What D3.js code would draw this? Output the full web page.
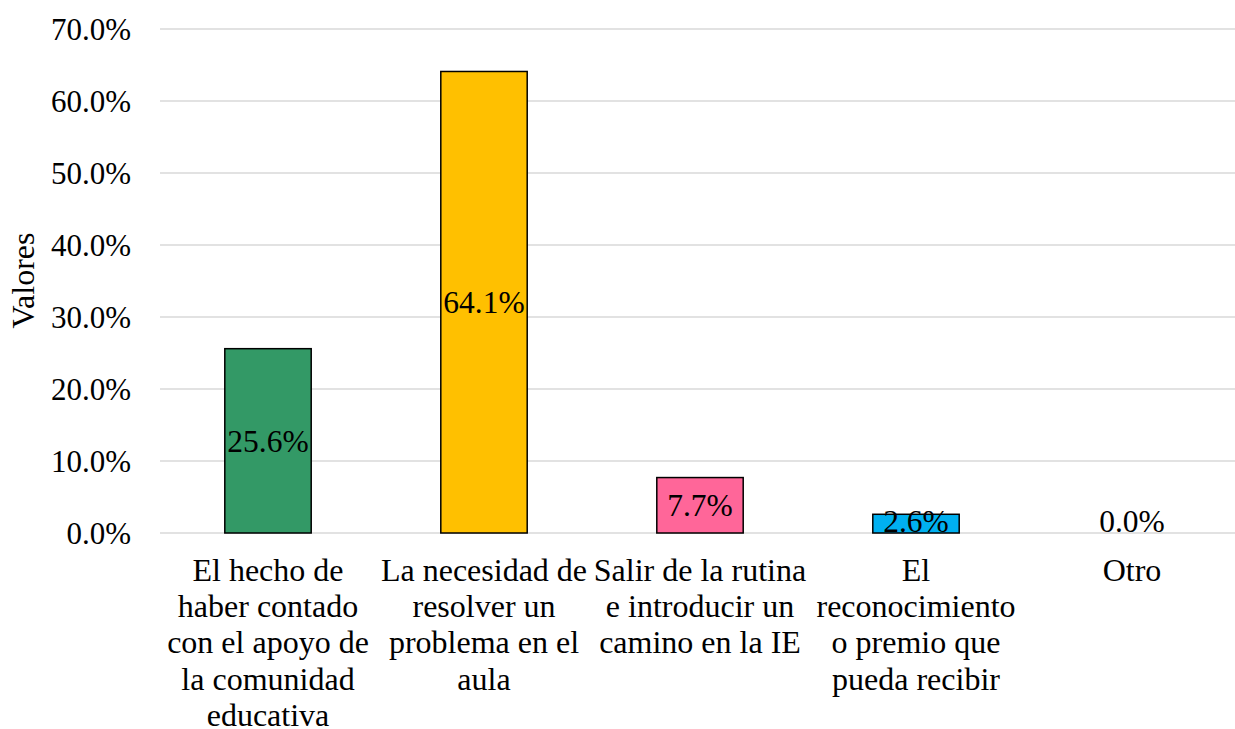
<!DOCTYPE html>
<html>
<head>
<meta charset="utf-8">
<script src="https://cdn.jsdelivr.net/npm/d3@7/dist/d3.min.js"></script>
<style>
  html, body { margin: 0; padding: 0; background: #ffffff; }
  svg { display: block; }
</style>
</head>
<body>
<svg id="chart" width="1235" height="729"></svg>
<script>
const categories = [
  ["El hecho de", "haber contado", "con el apoyo de", "la comunidad", "educativa"],
  ["La necesidad de", "resolver un", "problema en el", "aula"],
  ["Salir de la rutina", "e introducir un", "camino en la IE"],
  ["El", "reconocimiento", "o premio que", "pueda recibir"],
  ["Otro"]
];
const values = [0.256, 0.641, 0.077, 0.026, 0.0];
const colors = ["#339966", "#FFC000", "#FF6699", "#00B0F0", "#A5A5A5"];
const yTicks = [0, 0.1, 0.2, 0.3, 0.4, 0.5, 0.6, 0.7];
const yTitle = "Valores";

const FONT = "Liberation Serif";
const svg = d3.select("#chart");
const W = 1235, H = 729;
const plot = { left: 160, right: 1240, top: 29, bottom: 533 };

const x = d3.scaleBand()
  .domain(d3.range(values.length))
  .range([plot.left, plot.right])
  .paddingInner(0.6)
  .paddingOuter(0.3);

const y = d3.scaleLinear().domain([0, 0.7]).range([plot.bottom, plot.top]);

// gridlines
svg.append("g").selectAll("line").data(yTicks).join("line")
  .attr("x1", plot.left).attr("x2", W)
  .attr("y1", d => y(d)).attr("y2", d => y(d))
  .attr("stroke", "#d9d9d9").attr("stroke-width", 1.5);

// y tick labels
svg.append("g").selectAll("text").data(yTicks).join("text")
  .attr("x", 131).attr("y", d => y(d))
  .attr("dy", "0.35em")
  .attr("text-anchor", "end")
  .attr("font-family", FONT)
  .attr("font-size", 31)
  .text(d => d3.format(".1%")(d));

// y title
svg.append("text")
  .attr("transform", `translate(34,280.5) rotate(-90)`)
  .attr("text-anchor", "middle")
  .attr("font-family", FONT)
  .attr("font-size", 32)
  .text(yTitle);

// bars
svg.append("g").selectAll("rect").data(values).join("rect")
  .attr("x", (d, i) => x(i))
  .attr("width", x.bandwidth())
  .attr("y", d => y(d))
  .attr("height", d => y(0) - y(d))
  .attr("fill", (d, i) => colors[i])
  .attr("stroke", d => d > 0 ? "#000" : "none")
  .attr("stroke-width", 1.5);

// data labels
svg.append("g").selectAll("text").data(values).join("text")
  .attr("x", (d, i) => x(i) + x.bandwidth() / 2)
  .attr("y", d => Math.min((y(d) + y(0)) / 2, y(0) - 12))
  .attr("dy", "0.35em")
  .attr("text-anchor", "middle")
  .attr("font-family", FONT)
  .attr("font-size", 31.5)
  .text(d => d3.format(".1%")(d));

// category labels
const cat = svg.append("g").selectAll("text").data(categories).join("text")
  .attr("text-anchor", "middle")
  .attr("font-family", FONT)
  .attr("font-size", 32)
  .attr("x", (d, i) => x(i) + x.bandwidth() / 2)
  .attr("y", 581);
cat.selectAll("tspan").data(d => d).join("tspan")
  .attr("x", function() { return d3.select(this.parentNode).attr("x"); })
  .attr("dy", (d, j) => j === 0 ? 0 : 36.2)
  .text(d => d);
</script>
</body>
</html>
